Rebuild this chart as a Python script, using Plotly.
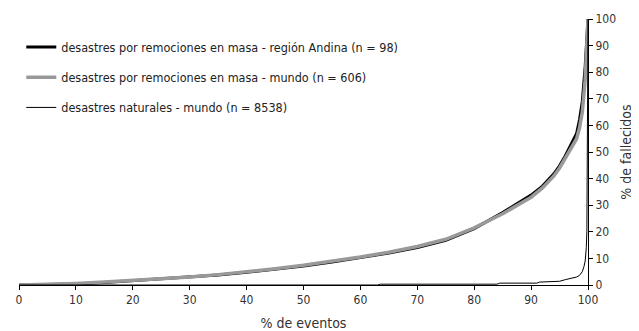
import plotly.graph_objects as go

# % de eventos (x) for landslide curves
x_pts = [0, 5, 10, 15, 20, 25, 30, 35, 40, 45, 50, 55, 60, 65, 70, 75, 80, 85, 90, 92, 94, 95, 96, 97, 98, 98.5, 99, 99.5, 100]
mundo_rm = [0, 0.2, 0.6, 1.1, 1.7, 2.3, 3.0, 3.9, 4.9, 6.1, 7.4, 8.9, 10.5, 12.3, 14.5, 17.2, 21.5, 26.8, 33.0, 36.5, 41, 44, 47.5, 51, 55, 59, 65, 77, 100]
andina_rm = [0, 0.1, 0.4, 0.9, 1.6, 2.3, 3.0, 3.8, 4.8, 5.9, 7.1, 8.6, 10.2, 12.0, 14.1, 16.8, 21.2, 27.2, 33.8, 37.2, 41.8, 44.8, 48.5, 52.5, 57, 62, 69, 82, 100]

x_nat = [0, 63, 63.5, 84, 84.5, 91, 91.5, 95, 96, 97, 98, 98.5, 99, 99.3, 99.5, 99.7, 99.8, 100]
mundo_nat = [0, 0, 0.3, 0.3, 0.7, 0.7, 1.1, 1.4, 2, 2.5, 3, 3.6, 5, 7, 9, 14, 20, 100]

names = [
    "desastres por remociones en masa - región Andina (n = 98)",
    "desastres por remociones en masa - mundo (n = 606)",
    "desastres naturales - mundo (n = 8538)",
]

FONT = "DejaVu Sans Condensed, Roboto, sans-serif"

fig = go.Figure()
fig.add_trace(go.Scatter(x=x_pts, y=andina_rm, mode="lines", name=names[0],
                         line=dict(color="#000000", width=3), legendgroup="a"))
fig.add_trace(go.Scatter(x=x_pts, y=mundo_rm, mode="lines", name=names[1],
                         line=dict(color="#999999", width=3.5), legendgroup="b"))
fig.add_trace(go.Scatter(x=x_nat, y=mundo_nat, mode="lines", name=names[2],
                         line=dict(color="#000000", width=1), legendgroup="c"))

fig.update_layout(
    width=631, height=323,
    margin=dict(l=11, r=51, t=11, b=46),
    paper_bgcolor="white", plot_bgcolor="white",
    font=dict(family=FONT, size=12, color="#333333"),
    showlegend=True,
    legend=dict(x=0.004, y=0.95, xanchor="left", yanchor="top",
                bgcolor="rgba(0,0,0,0)", tracegroupgap=11,
                traceorder="grouped", font=dict(size=12.5, color="#222222")),
    xaxis=dict(range=[0, 100], tickvals=list(range(0, 101, 10)), showgrid=False,
               zeroline=False, showline=True, linecolor="#000000", linewidth=1,
               ticks="outside", ticklen=4, tickcolor="#000000",
               title=dict(text="% de eventos", standoff=12), automargin=False),
    yaxis=dict(range=[0, 100], tickvals=list(range(0, 101, 10)), side="right",
               showgrid=False, zeroline=False, showline=True, linecolor="#000000",
               linewidth=1, ticks="outside", ticklen=4, tickcolor="#000000",
               title=dict(text="% de fallecidos", standoff=6), automargin=False),
)

fig.write_html("out.html")
